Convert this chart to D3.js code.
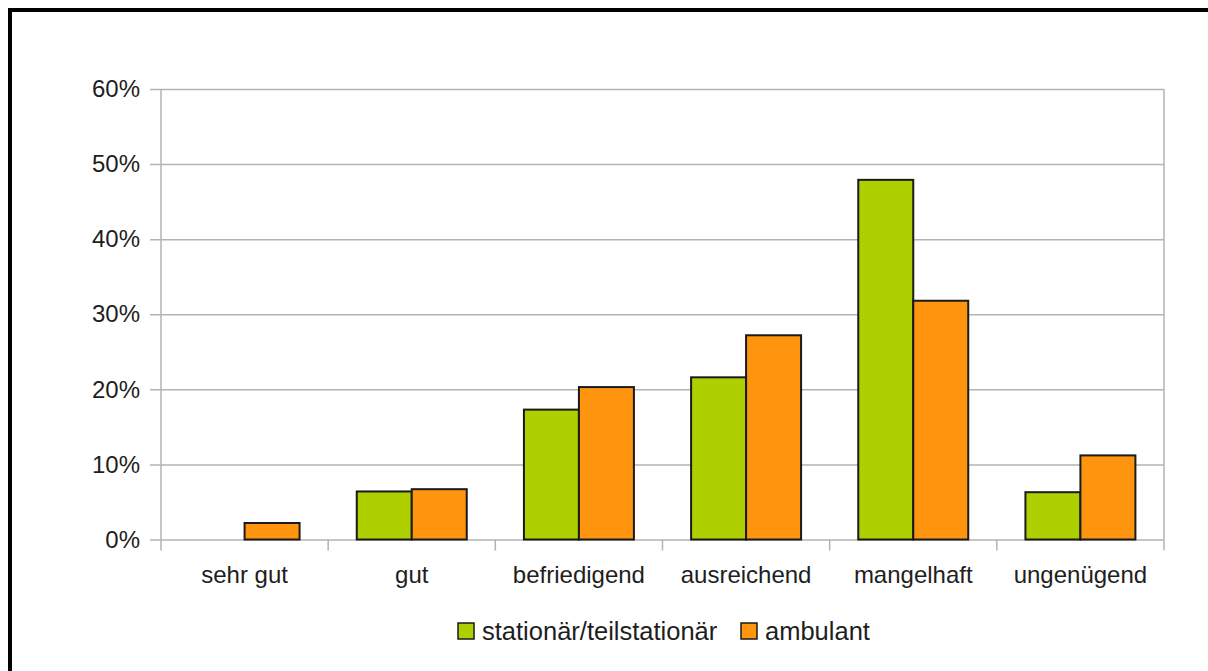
<!DOCTYPE html>
<html>
<head>
<meta charset="utf-8">
<script src="https://cdn.jsdelivr.net/npm/d3@7"></script>
<style>
  html, body { margin: 0; padding: 0; background: #fff; }
  svg { display: block; }
  text { font-family: "Liberation Sans", Arial, sans-serif; fill: #1e1e1e; }
</style>
</head>
<body>
<svg id="chart" width="1208" height="671"></svg>
<script>
// Ratings and the share of answers per setting
const categories = ["sehr gut", "gut", "befriedigend", "ausreichend", "mangelhaft", "ungenügend"];
const seriesNames = ["stationär/teilstationär", "ambulant"];
const stationaer = [0, 6.4, 17.3, 21.6, 47.9, 6.3];
const ambulant = [2.2, 6.7, 20.3, 27.2, 31.8, 11.2];
const yTicks = [0, 10, 20, 30, 40, 50, 60];
const colors = ["#aecf00", "#ff950e"];

const svg = d3.select("#chart");
const W = 1208, H = 671;

// outer frame (runs off the right and bottom edges)
svg.append("rect")
  .attr("x", 10).attr("y", 10)
  .attr("width", W + 20).attr("height", H + 20)
  .attr("fill", "#fff")
  .attr("stroke", "#000").attr("stroke-width", 4);

const plot = { left: 161, right: 1164, top: 89, bottom: 539.5 };

const x = d3.scaleBand().domain(categories).range([plot.left, plot.right]).padding(0);
const xSub = d3.scaleBand().domain(seriesNames).range([0, x.bandwidth()])
  .paddingInner(0).paddingOuter(0.52);
const y = d3.scaleLinear().domain([0, 60]).range([plot.bottom, plot.top]);

// horizontal gridlines with short ticks to the left
const yAxis = d3.axisLeft(y).tickValues(yTicks)
  .tickSize(-(plot.right - plot.left)).tickPadding(21)
  .tickFormat(d => d + "%");
const gy = svg.append("g").attr("transform", `translate(${plot.left},0)`).call(yAxis);
gy.select(".domain").remove();
gy.selectAll(".tick line")
  .attr("x1", -11).attr("x2", plot.right - plot.left)
  .attr("stroke", "#b3b3b3").attr("stroke-width", 1.5);
gy.selectAll(".tick text")
  .attr("x", -21)
  .style("font-size", "24px").attr("fill", "#1e1e1e");

// plot-area sides
svg.append("line")
  .attr("x1", plot.left).attr("x2", plot.left)
  .attr("y1", plot.top).attr("y2", plot.bottom + 11)
  .attr("stroke", "#b3b3b3").attr("stroke-width", 1.5);
svg.append("line")
  .attr("x1", plot.right).attr("x2", plot.right)
  .attr("y1", plot.top).attr("y2", plot.bottom + 11)
  .attr("stroke", "#b3b3b3").attr("stroke-width", 1.5);

// category boundary ticks below the axis
const bounds = categories.slice(1).map(c => x(c));
svg.append("g").selectAll("line").data(bounds).join("line")
  .attr("x1", d => d).attr("x2", d => d)
  .attr("y1", plot.bottom).attr("y2", plot.bottom + 11)
  .attr("stroke", "#b3b3b3").attr("stroke-width", 1.5);

// category labels
svg.append("g").selectAll("text").data(categories).join("text")
  .attr("x", d => x(d) + x.bandwidth() / 2)
  .attr("y", 583)
  .attr("text-anchor", "middle")
  .style("font-size", "24px")
  .text(d => d);

// bars
const seriesData = [stationaer, ambulant];
seriesNames.forEach((name, si) => {
  svg.append("g").selectAll("rect")
    .data(categories.map((c, i) => ({ c, v: seriesData[si][i] })).filter(d => d.v > 0))
    .join("rect")
    .attr("x", d => x(d.c) + xSub(name))
    .attr("y", d => y(d.v))
    .attr("width", xSub.bandwidth())
    .attr("height", d => y(0) - y(d.v))
    .attr("fill", colors[si])
    .attr("stroke", "#1a1a1a").attr("stroke-width", 2);
});

// legend
const legend = svg.append("g");
const legendItems = [
  { name: seriesNames[0], color: colors[0], x: 458 },
  { name: seriesNames[1], color: colors[1], x: 741 }
];
legendItems.forEach(it => {
  legend.append("rect")
    .attr("x", it.x).attr("y", 623)
    .attr("width", 16).attr("height", 16)
    .attr("fill", it.color)
    .attr("stroke", "#1a1a1a").attr("stroke-width", 1.5);
  legend.append("text")
    .attr("x", it.x + 24).attr("y", 640)
    .style("font-size", "25.5px")
    .text(it.name);
});
</script>
</body>
</html>
